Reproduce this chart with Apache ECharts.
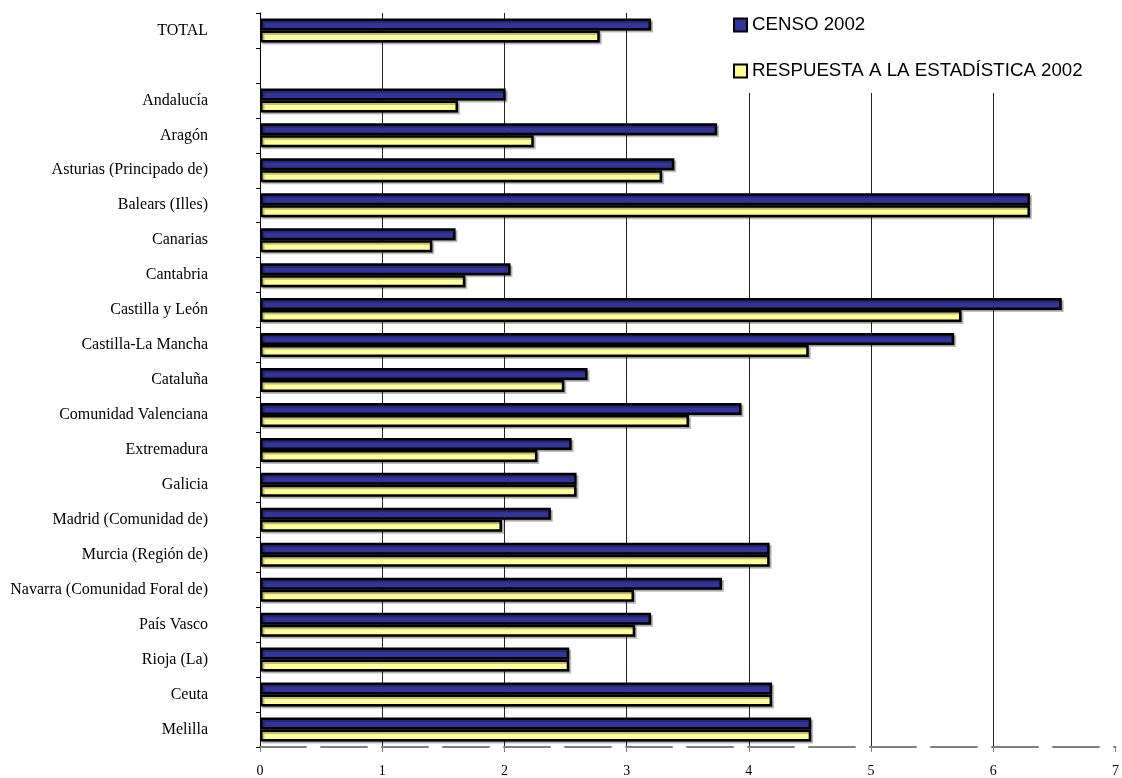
<!DOCTYPE html>
<html>
<head>
<meta charset="utf-8">
<script src="https://cdn.jsdelivr.net/npm/echarts@6/dist/echarts.min.js"></script>
<style>html,body{margin:0;padding:0;background:#fff}#c{width:1122px;height:778px}</style>
</head>
<body>
<div id="c"></div>
<script>
const categories = ['TOTAL', '', 'Andalucía', 'Aragón', 'Asturias (Principado de)', 'Balears (Illes)', 'Canarias', 'Cantabria', 'Castilla y León', 'Castilla-La Mancha', 'Cataluña', 'Comunidad Valenciana', 'Extremadura', 'Galicia', 'Madrid (Comunidad de)', 'Murcia (Región de)', 'Navarra (Comunidad Foral de)', 'País Vasco', 'Rioja (La)', 'Ceuta', 'Melilla'];
const censo2002 = [3.20, null, 2.01, 3.74, 3.39, 6.30, 1.60, 2.05, 6.56, 5.68, 2.68, 3.94, 2.55, 2.59, 2.38, 4.17, 3.78, 3.20, 2.53, 4.19, 4.51];
const respuesta2002 = [2.78, null, 1.62, 2.24, 3.29, 6.30, 1.41, 1.68, 5.74, 4.49, 2.49, 3.51, 2.27, 2.59, 1.98, 4.17, 3.06, 3.07, 2.53, 4.19, 4.51];
const seriesNames = ['CENSO 2002', 'RESPUESTA A LA ESTADÍSTICA 2002'];

const chart = echarts.init(document.getElementById('c'), null, {renderer: 'canvas'});
const barShadow = {shadowColor: 'rgba(0,0,0,0.25)', shadowOffsetX: 2, shadowOffsetY: 2, shadowBlur: 0};
chart.setOption({
  animation: false,
  backgroundColor: '#fff',
  grid: {left: 260, right: 4, top: 13, bottom: 31, containLabel: false},
  legend: {
    orient: 'vertical',
    left: 730, top: 0,
    padding: [14, 40, 11, 3],
    backgroundColor: '#fff',
    icon: 'rect',
    itemWidth: 13, itemHeight: 13,
    itemGap: 24,
    textStyle: {fontFamily: 'Liberation Sans, Arial, sans-serif', fontSize: 18.7, color: '#000', lineHeight: 22},
    data: seriesNames
  },
  xAxis: {
    type: 'value', min: 0, max: 7, interval: 1,
    axisLine: {show: true, lineStyle: {color: '#808080', width: 2, type: [46, 15]}},
    axisTick: {show: true, length: 5, lineStyle: {color: '#808080'}},
    axisLabel: {fontFamily: 'Liberation Serif, Times New Roman, serif', fontSize: 14, color: '#000', margin: 17},
    splitLine: {show: true, showMinLine: false, showMaxLine: false, lineStyle: {color: '#222', width: 1}}
  },
  yAxis: {
    type: 'category', inverse: true, data: categories,
    axisLine: {show: true, lineStyle: {color: '#000', width: 1}},
    axisTick: {show: true, length: 4, lineStyle: {color: '#000'}},
    axisLabel: {fontFamily: 'Liberation Serif, Times New Roman, serif', fontSize: 16, color: '#000', margin: 52}
  },
  series: [
    {name: seriesNames[0], type: 'bar', data: censo2002, barWidth: 12, barGap: '0%',
     itemStyle: Object.assign({color: '#333399', borderColor: '#000', borderWidth: 2.5}, barShadow)},
    {name: seriesNames[1], type: 'bar', data: respuesta2002, barWidth: 12, barGap: '0%',
     itemStyle: Object.assign({color: '#FFFF99', borderColor: '#000', borderWidth: 2.5}, barShadow)}
  ]
});
</script>
</body>
</html>
